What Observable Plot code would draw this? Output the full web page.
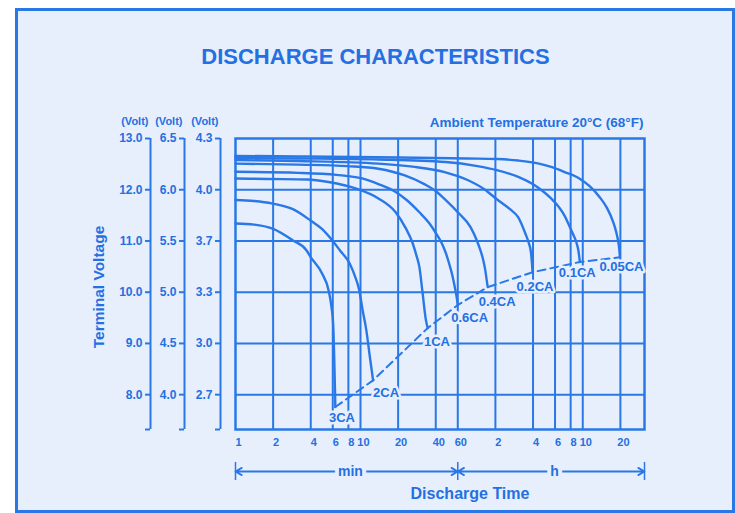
<!DOCTYPE html>
<html><head><meta charset="utf-8">
<script src="https://cdn.jsdelivr.net/npm/d3@7"></script>
<script src="https://cdn.jsdelivr.net/npm/@observablehq/plot@0.6"></script>
<style>
html,body{margin:0;padding:0;background:#fff;width:735px;height:513px;overflow:hidden;}
#panel{position:absolute;left:15px;top:8px;width:720px;height:505px;box-sizing:border-box;border:3px solid #2a78e6;background:#e7effc;}
#title{position:absolute;left:8px;width:735px;top:44px;line-height:25px;text-align:center;font:bold 22px "Liberation Sans",Arial,sans-serif;color:#2470e2;}
#chart{position:absolute;left:0;top:0;}
</style></head><body>
<div id="panel"></div>
<div id="title">DISCHARGE CHARACTERISTICS</div>
<div id="chart"></div>
<script>
// ---- data (time in minutes, voltage on the 12 V scale) ----
const rates = ["3CA", "2CA", "1CA", "0.6CA", "0.4CA", "0.2CA", "0.1CA", "0.05CA"];

const time3CA = [1, 1.41, 1.98, 2.88, 3.69, 3.98, 4.94, 5.55, 5.86, 6.04, 6.16, 6.25, 6.29];
const volt3CA = [11.34, 11.32, 11.24, 11.01, 10.82, 10.69, 10.36, 10.04, 9.71, 9.39, 8.74, 8.09, 7.76];

const time2CA = [1, 1.41, 1.98, 2.88, 3.98, 4.94, 6.04, 6.83, 8.19, 9.10, 9.77, 10.40, 11.13, 11.88, 12.61];
const volt2CA = [11.80, 11.78, 11.73, 11.62, 11.40, 11.23, 10.99, 10.82, 10.56, 10.29, 10.04, 9.65, 9.26, 8.74, 8.28];

const time1CA = [1, 1.81, 3.76, 5.55, 9.27, 13.9, 19.1, 23.0, 26.1, 28.0, 29.6, 31.4, 33.4, 34.5];
const volt1CA = [12.22, 12.21, 12.20, 12.15, 12.02, 11.83, 11.56, 11.25, 10.96, 10.72, 10.49, 9.98, 9.45, 9.30];

const time06CA = [1, 3.17, 6.42, 10.3, 13.9, 18.7, 23.4, 29.6, 35.4, 40.2, 44.6, 47.9, 51.3, 54.5, 57.0, 59.0, 60];
const volt06CA = [12.35, 12.33, 12.29, 12.22, 12.11, 11.97, 11.80, 11.56, 11.35, 11.15, 10.96, 10.78, 10.55, 10.31, 10.08, 9.88, 9.75];

const time04CA = [1, 3.17, 7.89, 13.9, 22.6, 32.4, 40.2, 47.9, 60, 75.9, 84.6, 91.0, 96.1, 99.6, 102.3, 104.2];
const volt04CA = [12.51, 12.49, 12.46, 12.41, 12.28, 12.11, 11.97, 11.80, 11.56, 11.27, 11.03, 10.82, 10.62, 10.43, 10.23, 10.10];

const time02CA = [1, 3.17, 13.9, 26.1, 47.9, 71.9, 97.8, 124, 157, 183, 208, 222, 231, 235, 238];
const volt02CA = [12.58, 12.56, 12.51, 12.45, 12.34, 12.19, 12.01, 11.81, 11.62, 11.46, 11.15, 10.96, 10.78, 10.58, 10.39];

const time01CA = [1, 3.17, 13.9, 47.9, 86.2, 124, 183, 268, 335, 387, 432, 465, 502, 532, 553, 569];
const volt01CA = [12.62, 12.61, 12.59, 12.54, 12.46, 12.38, 12.25, 12.03, 11.83, 11.66, 11.48, 11.31, 11.13, 10.98, 10.82, 10.59];

const time005CA = [1, 3.17, 20.6, 71.9, 124, 183, 268, 341, 425, 563, 681, 823, 939, 1051, 1112, 1155, 1178, 1189];
const volt005CA = [12.66, 12.65, 12.63, 12.61, 12.60, 12.57, 12.51, 12.44, 12.35, 12.22, 12.07, 11.85, 11.64, 11.37, 11.17, 10.98, 10.82, 10.68];

const labelTime = [7.11, 16.0, 40.9, 74.6, 124, 249, 542, 1223];
const labelVolt = [7.54, 8.03, 9.04, 9.49, 9.82, 10.10, 10.37, 10.49];

const voltTicks = [13, 12, 11, 10, 9, 8];
const voltLabels12 = ["13.0", "12.0", "11.0", "10.0", "9.0", "8.0"];
const voltLabels6 = ["6.5", "6.0", "5.5", "5.0", "4.5", "4.0"];
const voltLabels2 = ["4.3", "4.0", "3.7", "3.3", "3.0", "2.7"];
const voltUnit = "(Volt)";

const timeTicks = [1, 2, 4, 6, 8, 10, 20, 40, 60, 120, 240, 360, 480, 600, 1200];
const timeTickLabels = ["1", "2", "4", "6", "8", "10", "20", "40", "60", "2", "4", "6", "8", "10", "20"];

const unitNames = ["min", "h"];
const unitFrom = [1, 60];
const unitTo = [60, 1871];
const unitMid = [8.3, 357];

const yTitle = "Terminal Voltage";
const xTitle = "Discharge Time";
const ambientText = "Ambient Temperature 20°C (68°F)";

// ---- build ----
const blue = "#2a78e6";
const textBlue = "#2470e2";
const bg = "#e7effc";
const xMin = 1, xMax = 1871, yMin = 7.32, yMax = 13;

const series = [
  [time3CA, volt3CA], [time2CA, volt2CA], [time1CA, volt1CA], [time06CA, volt06CA],
  [time04CA, volt04CA], [time02CA, volt02CA], [time01CA, volt01CA], [time005CA, volt005CA]
];
const rows = series.flatMap(([T, V], k) => T.map((t, i) => ({rate: rates[k], t, v: V[i]})));
const ends = series.map(([T, V]) => ({t: T[T.length - 1], v: V[V.length - 1]}));
const labels = rates.map((r, i) => ({rate: r, t: labelTime[i], v: labelVolt[i]}));
const units = unitNames.map((u, i) => ({u, from: unitFrom[i], to: unitTo[i], mid: unitMid[i]}));
const unitBars = [unitFrom[0], unitFrom[1], unitTo[1]];
const xTickRows = timeTicks.map((t, i) => ({t, label: timeTickLabels[i]}));

const axisOffsets = [-85, -51, -15];
const axisLabelSets = [voltLabels12, voltLabels6, voltLabels2];
const fmtY = (L) => (d) => { const i = voltTicks.indexOf(d); return i < 0 ? "" : L[i]; };

const marks = [
  Plot.ruleX(timeTicks.filter(d => d > xMin), {stroke: blue, strokeWidth: 2}),
  Plot.ruleY(voltTicks.filter(d => d < yMax), {stroke: blue, strokeWidth: 2}),
  Plot.frame({stroke: blue, strokeWidth: 2.5}),
  Plot.line(rows, {x: "t", y: "v", z: "rate", stroke: blue, strokeWidth: 2.4, curve: "monotone-x"}),
  Plot.line(ends, {x: "t", y: "v", stroke: blue, strokeWidth: 2, strokeDasharray: "8,5"}),
  Plot.text(labels, {x: "t", y: "v", text: "rate", fill: textBlue, stroke: bg, strokeWidth: 5, paintOrder: "stroke", fontSize: 13, fontWeight: "bold"}),
  Plot.text(xTickRows, {x: "t", text: "label", frameAnchor: "bottom", lineAnchor: "middle", textAnchor: "middle", dx: 3, dy: 13, fill: textBlue, fontSize: 11, fontWeight: "bold"})
];

axisOffsets.forEach((off, k) => {
  marks.push(Plot.ruleX([xMin], {stroke: blue, strokeWidth: 2, dx: off}));
  marks.push(Plot.axisY({anchor: "left", ticks: [...voltTicks, yMin], tickFormat: fmtY(axisLabelSets[k]), tickSize: 5, tickPadding: 3, dx: off, stroke: blue, strokeWidth: 2, fill: textBlue, fontSize: 12, fontWeight: "bold", label: null}));
  marks.push(Plot.text([voltUnit], {frameAnchor: "top-left", dx: off - 2, dy: -17, textAnchor: "end", lineAnchor: "middle", fill: textBlue, fontSize: 11, fontWeight: "bold"}));
});

marks.push(
  Plot.arrow(units, {x1: "mid", x2: "from", y1: yMin, y2: yMin, dy: 42, stroke: blue, strokeWidth: 1.8, headLength: 6}),
  Plot.arrow(units, {x1: "mid", x2: "to", y1: yMin, y2: yMin, dy: 42, stroke: blue, strokeWidth: 1.8, headLength: 6}),
  Plot.ruleX(unitBars, {x: d => d, y1: yMin, y2: yMin, insetTop: -9, insetBottom: -9, dy: 42, stroke: blue, strokeWidth: 1.5}),
  Plot.text(units, {x: "mid", y: yMin, text: "u", dy: 42, fill: textBlue, stroke: bg, strokeWidth: 8, paintOrder: "stroke", fontSize: 14, fontWeight: "bold"}),
  Plot.text([xTitle], {frameAnchor: "bottom", textAnchor: "middle", lineAnchor: "middle", dx: 30, dy: 64, fill: textBlue, fontSize: 16, fontWeight: "bold"}),
  Plot.text([yTitle], {frameAnchor: "left", textAnchor: "middle", lineAnchor: "middle", dx: -136, dy: 3, rotate: -90, fill: textBlue, fontSize: 15.5, fontWeight: "bold"}),
  Plot.text([ambientText], {frameAnchor: "top-right", textAnchor: "end", lineAnchor: "middle", dx: -1, dy: -16, fill: textBlue, fontSize: 13.5, fontWeight: "bold"})
);

const chart = Plot.plot({
  width: 735, height: 513,
  marginLeft: 235, marginRight: 91, marginTop: 138, marginBottom: 84,
  x: {type: "log", domain: [xMin, xMax], axis: null},
  y: {domain: [yMin, yMax], axis: null},
  style: {background: "transparent", fontFamily: "'Liberation Sans', Arial, sans-serif", fontWeight: "bold", overflow: "visible"},
  marks
});
document.getElementById("chart").appendChild(chart);
</script></body></html>
